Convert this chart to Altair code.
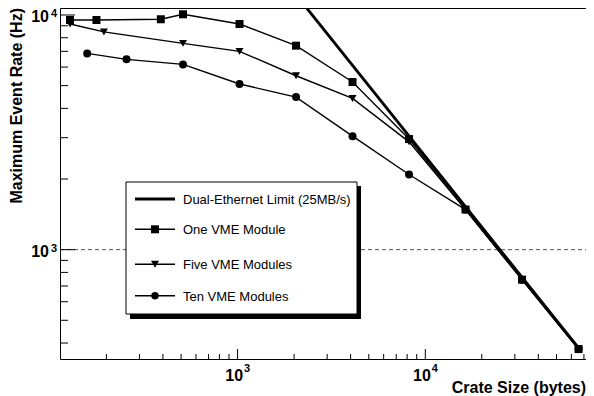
import altair as alt
import pandas as pd

# ---------------- data ----------------
one_sizes = [128, 177, 390, 512, 1024, 2048, 4096, 8192, 16384, 32768, 65536]
one_rates = [9520, 9520, 9590, 10070, 9150, 7400, 5180, 2960, 1482, 745, 377]

five_sizes = [128, 194, 512, 1024, 2048, 4096, 8192, 16384, 32768, 65536]
five_rates = [9150, 8470, 7570, 7000, 5510, 4410, 2880, 1482, 745, 377]

ten_sizes = [158, 256, 512, 1024, 2048, 4096, 8192, 16384, 32768, 65536]
ten_rates = [6860, 6470, 6160, 5080, 4470, 3045, 2090, 1482, 745, 377]

limit_sizes = [2340, 65536]
limit_rates = [10680, 381]

series_names = ["One VME Module", "Five VME Modules", "Ten VME Modules"]
limit_name = "Dual-Ethernet Limit (25MB/s)"

x_minor = [200, 300, 400, 500, 600, 700, 800, 900,
           2000, 3000, 4000, 5000, 6000, 7000, 8000, 9000,
           20000, 30000, 40000, 50000, 60000, 70000]
x_major = [1000, 10000]
y_minor = [400, 500, 600, 700, 800, 900,
           2000, 3000, 4000, 5000, 6000, 7000, 8000, 9000]
y_major = [1000, 10000]
label_values = [1000, 10000]
label_base = ["10", "10"]
label_exp = ["3", "4"]
ref_rate = [1000]

x_title = "Crate Size (bytes)"
y_title = "Maximum Event Rate (Hz)"

# ---------------- layout ----------------
W, H = 526, 351
FONT = "Liberation Sans"

xs = alt.Scale(type="log", domain=[113.2, 71800], nice=False)
ys = alt.Scale(type="log", domain=[342, 10711], nice=False)


def X(f):
    return alt.X(f, type="quantitative", scale=xs, axis=None)


def Y(f):
    return alt.Y(f, type="quantitative", scale=ys, axis=None)


rows = []
for name, sz, rt in zip(series_names,
                        [one_sizes, five_sizes, ten_sizes],
                        [one_rates, five_rates, ten_rates]):
    for s, r in zip(sz, rt):
        rows.append({"series": name, "size": s, "rate": r})
series_df = pd.DataFrame(rows)
limit_df = pd.DataFrame({"size": limit_sizes, "rate": limit_rates})

MS = {"square": 64, "triangle-down": 64, "circle": 56}
shape_scale = alt.Scale(domain=series_names, range=["square", "triangle-down", "circle"])
size_scale = alt.Scale(domain=series_names, range=[MS["square"], MS["triangle-down"], MS["circle"]])

one = pd.DataFrame({"k": [0]})

dashed = alt.Chart(pd.DataFrame({"rate": ref_rate})).mark_rule(
    color="#555555", strokeDash=[4, 3], strokeWidth=1
).encode(y=Y("rate"), x=alt.value(0), x2=alt.value(W))

lines = alt.Chart(series_df).mark_line(color="black", strokeWidth=1.4).encode(
    x=X("size"), y=Y("rate"), detail="series:N"
)

limit = alt.Chart(limit_df).mark_line(color="black", strokeWidth=2.8).encode(
    x=X("size"), y=Y("rate")
)

points = alt.Chart(series_df).mark_point(filled=True, color="black", opacity=1).encode(
    x=X("size"), y=Y("rate"),
    shape=alt.Shape("series:N", scale=shape_scale, legend=None),
    size=alt.Size("series:N", scale=size_scale, legend=None),
)

# ticks drawn inward (ROOT style)
xminor = alt.Chart(pd.DataFrame({"v": x_minor})).mark_rule(color="black").encode(
    x=X("v"), y=alt.value(H), y2=alt.value(H - 5))
xmajor = alt.Chart(pd.DataFrame({"v": x_major})).mark_rule(color="black").encode(
    x=X("v"), y=alt.value(H), y2=alt.value(H - 10))
yminor = alt.Chart(pd.DataFrame({"v": y_minor})).mark_rule(color="black").encode(
    y=Y("v"), x=alt.value(0), x2=alt.value(8))
ymajor = alt.Chart(pd.DataFrame({"v": y_major})).mark_rule(color="black").encode(
    y=Y("v"), x=alt.value(0), x2=alt.value(15))

lab_df = pd.DataFrame({"v": label_values, "base": label_base, "exp": label_exp})
xbase = alt.Chart(lab_df).mark_text(
    align="right", baseline="alphabetic", dx=5.5, font=FONT, fontSize=16, fontWeight="bold"
).encode(x=X("v"), y=alt.value(373), text="base:N")
xexp = alt.Chart(lab_df).mark_text(
    align="left", baseline="alphabetic", dx=6.5, font=FONT, fontSize=11, fontWeight="bold"
).encode(x=X("v"), y=alt.value(364), text="exp:N")
ybase = alt.Chart(lab_df).mark_text(
    align="right", baseline="alphabetic", dy=7.3, font=FONT, fontSize=16, fontWeight="bold"
).encode(y=Y("v"), x=alt.value(-11), text="base:N")
yexp = alt.Chart(lab_df).mark_text(
    align="left", baseline="alphabetic", dy=2.5, font=FONT, fontSize=11, fontWeight="bold"
).encode(y=Y("v"), x=alt.value(-9), text="exp:N")

xt = alt.Chart(pd.DataFrame({"t": [x_title]})).mark_text(
    align="right", baseline="alphabetic", font=FONT, fontSize=16, fontWeight="bold"
).encode(x=alt.value(W), y=alt.value(385), text="t:N")
yt = alt.Chart(pd.DataFrame({"t": [y_title]})).mark_text(
    align="right", baseline="alphabetic", angle=270, font=FONT, fontSize=16, fontWeight="bold"
).encode(x=alt.value(-38), y=alt.value(0), text="t:N")

# legend box with shadow
shadow = alt.Chart(one).mark_rect(color="black").encode(
    x=alt.value(70), x2=alt.value(301), y=alt.value(178), y2=alt.value(311))
box = alt.Chart(one).mark_rect(fill="white", stroke="black", strokeWidth=1).encode(
    x=alt.value(66), x2=alt.value(297), y=alt.value(174), y2=alt.value(306))

legend_layers = []
entries = [(limit_name, None, 2.8), (series_names[0], "square", 1.4),
           (series_names[1], "triangle-down", 1.4), (series_names[2], "circle", 1.4)]
row_y = [191, 221.3, 256.3, 287.7]
for (lab, shp, sw), yy in zip(entries, row_y):
    legend_layers.append(alt.Chart(one).mark_rule(color="black", strokeWidth=sw).encode(
        x=alt.value(75), x2=alt.value(115), y=alt.value(yy)))
    if shp:
        legend_layers.append(alt.Chart(one).mark_point(
            filled=True, color="black", opacity=1, shape=shp, size=MS[shp]
        ).encode(x=alt.value(95), y=alt.value(yy)))
    legend_layers.append(alt.Chart(pd.DataFrame({"t": [lab]})).mark_text(
        align="left", baseline="alphabetic", font=FONT, fontSize=13
    ).encode(x=alt.value(123), y=alt.value(yy + 5), text="t:N"))

chart = alt.layer(
    dashed, lines, limit, points,
    xminor, xmajor, yminor, ymajor,
    shadow, box, *legend_layers,
    xbase, xexp, ybase, yexp, xt, yt,
).properties(
    width=W, height=H,
    padding={"left": 52, "top": 0, "right": 0, "bottom": 37},
    autosize=alt.AutoSizeParams(type="none"),
).configure_view(stroke="black", strokeWidth=1)

chart.save("out.html", embed_options={"renderer": "svg", "actions": False})
